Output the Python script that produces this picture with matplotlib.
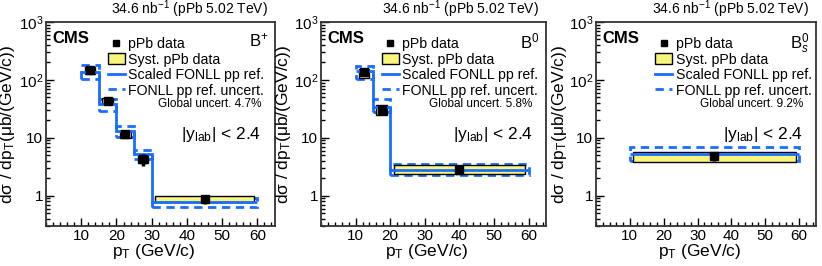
import numpy as np
import matplotlib
matplotlib.use("Agg")
import matplotlib.pyplot as plt
from matplotlib.patches import Rectangle, Patch
from matplotlib.lines import Line2D
from matplotlib.ticker import FixedLocator, MultipleLocator, LogLocator, NullFormatter

plt.rcParams["font.family"] = ["Liberation Sans", "DejaVu Sans"]
plt.rcParams["mathtext.fontset"] = "custom"
plt.rcParams["mathtext.rm"] = "Liberation Sans"
plt.rcParams["mathtext.it"] = "Liberation Sans:italic"
plt.rcParams["mathtext.bf"] = "Liberation Sans:bold"

BLUE = "#1a6eff"
YELLOW = "#f7f57a"

# B+ (5 pT bins)
bp_edges = [10, 15, 20, 25, 30, 60]
bp_x = [12.5, 17.5, 22.5, 27.5, 45]
bp_y = [148, 44, 11.5, 4.3, 0.87]
bp_stat_lo = [14, 4, 1.3, 1.0, 0.15]
bp_stat_hi = [14, 4, 1.3, 1.0, 0.16]
bp_syst_lo = [126, 38, 10.1, 3.65, 0.78]
bp_syst_hi = [169, 49, 13.2, 5.1, 1.0]
bp_fonll = [135, 38, 13, 5.3, 0.78]
bp_fonll_lo = [103, 29, 10.5, 4.3, 0.65]
bp_fonll_hi = [180, 47, 16, 6.1, 0.9]

# B0 (3 pT bins)
b0_edges = [10, 15, 20, 60]
b0_x = [12.5, 17.5, 40]
b0_y = [135, 30, 2.8]
b0_stat_lo = [20, 5, 0.4]
b0_stat_hi = [22, 6, 0.5]
b0_syst_lo = [108, 25, 2.37]
b0_syst_hi = [155, 37, 3.42]
b0_fonll = [140, 34, 2.73]
b0_fonll_lo = [105, 28, 2.24]
b0_fonll_hi = [175, 47, 3.5]

# Bs (1 pT bin)
bs_edges = [10, 60]
bs_x = [35]
bs_y = [4.9]
bs_stat_lo = [0.9]
bs_stat_hi = [0.9]
bs_syst_lo = [3.75]
bs_syst_hi = [5.6]
bs_fonll = [5.2]
bs_fonll_lo = [3.95]
bs_fonll_hi = [6.9]

panels = [
    dict(edges=bp_edges, x=bp_x, y=bp_y, slo=bp_stat_lo, shi=bp_stat_hi,
         ylo=bp_syst_lo, yhi=bp_syst_hi, f=bp_fonll, flo=bp_fonll_lo, fhi=bp_fonll_hi,
         name="B$^{+}$", glob="Global uncert. 4.7%"),
    dict(edges=b0_edges, x=b0_x, y=b0_y, slo=b0_stat_lo, shi=b0_stat_hi,
         ylo=b0_syst_lo, yhi=b0_syst_hi, f=b0_fonll, flo=b0_fonll_lo, fhi=b0_fonll_hi,
         name="B$^{0}$", glob="Global uncert. 5.8%"),
    dict(edges=bs_edges, x=bs_x, y=bs_y, slo=bs_stat_lo, shi=bs_stat_hi,
         ylo=bs_syst_lo, yhi=bs_syst_hi, f=bs_fonll, flo=bs_fonll_lo, fhi=bs_fonll_hi,
         name="B$^{0}_{s}$", glob="Global uncert. 9.2%"),
]

W, H = 822, 266
fig = plt.figure(figsize=(W / 100, H / 100), dpi=100)
boxes = [(46, 275), (321, 546), (596, 816)]
top, bottom = 22, 226


def draw_panel(ax, p):
    edges = np.array(p["edges"], dtype=float)
    lo_e, hi_e = edges[:-1], edges[1:]
    # FONLL uncertainty as dashed boxes
    for a, b, l, h in zip(lo_e, hi_e, p["flo"], p["fhi"]):
        ax.add_patch(Rectangle((a, l), b - a, h - l, fill=False, edgecolor=BLUE,
                               lw=2, linestyle=(0, (3, 2)), zorder=2))
    # systematic boxes
    for a, b, l, h in zip(lo_e, hi_e, p["ylo"], p["yhi"]):
        ax.add_patch(Rectangle((a + 1, l), b - a - 2, h - l, facecolor=YELLOW,
                               edgecolor="black", lw=1, zorder=3))
    # FONLL central
    ax.stairs(p["f"], edges, baseline=None, color=BLUE, lw=2, zorder=4)
    # data
    ax.errorbar(p["x"], p["y"], yerr=[p["slo"], p["shi"]], fmt="s", color="black",
                ms=5.5, elinewidth=2.5, capsize=0, zorder=5)

    ax.set_yscale("log")
    ax.set_xlim(0, 65)
    ax.set_ylim(0.3, 1000)
    ax.xaxis.set_major_locator(FixedLocator([10, 20, 30, 40, 50, 60]))
    ax.xaxis.set_minor_locator(MultipleLocator(2))
    ax.yaxis.set_major_locator(FixedLocator([1, 10, 100, 1000]))
    ax.set_yticklabels(["1", "10", "10$^{2}$", "10$^{3}$"])
    ax.yaxis.set_minor_locator(LogLocator(base=10, subs=np.arange(2, 10)))
    ax.yaxis.set_minor_formatter(NullFormatter())
    ax.tick_params(which="both", direction="in", labelsize=11, width=1)
    ax.tick_params(which="major", length=6, pad=2)
    ax.tick_params(which="minor", length=3)
    for s in ax.spines.values():
        s.set_linewidth(1.3)
        s.set_color("#333333")

    ax.set_xlabel("p$_{\\mathrm{T}}$ (GeV/c)", fontsize=12.5)
    ax.xaxis.set_label_coords(0.47, -0.08, transform=ax.transAxes)
    ax.xaxis.label.set_va("top")
    ax.set_ylabel("dσ / dp$_{\\mathrm{T}}$(μb/(GeV/c))", fontsize=12.5)
    ax.yaxis.set_label_coords(-0.125, 0.5)

    ax.text(0.97, 1.01, "34.6 nb$^{-1}$ (pPb 5.02 TeV)", transform=ax.transAxes,
            fontsize=10, ha="right", va="bottom")
    ax.text(0.03, 0.955, "CMS", transform=ax.transAxes, fontsize=12, fontweight="bold",
            ha="left", va="top")
    ax.text(0.97, 0.955, p["name"], transform=ax.transAxes, fontsize=12,
            ha="right", va="top")
    ax.text(0.94, 0.6, p["glob"], transform=ax.transAxes, fontsize=8.5,
            ha="right", va="center")
    ax.text(0.94, 0.45, "|y$_{\\mathrm{lab}}$| < 2.4", transform=ax.transAxes,
            fontsize=12.5, ha="right", va="center")

    handles = [
        Line2D([], [], marker="s", color="black", linestyle="none", ms=5),
        Patch(facecolor=YELLOW, edgecolor="black", lw=1),
        Line2D([], [], color=BLUE, lw=2),
        Line2D([], [], color=BLUE, lw=2, linestyle=(0, (3, 2))),
    ]
    labels = ["pPb data", "Syst. pPb data", "Scaled FONLL pp ref.", "FONLL pp ref. uncert."]
    ax.legend(handles, labels, loc="upper left", bbox_to_anchor=(0.27, 0.925),
              frameon=False, fontsize=10.2, borderpad=0, borderaxespad=0,
              labelspacing=0.1, handlelength=1.2, handletextpad=0.25, handleheight=0.8)


for (l, r), p in zip(boxes, panels):
    ax = fig.add_axes([l / W, (H - bottom) / H, (r - l) / W, (bottom - top) / H])
    draw_panel(ax, p)

fig.savefig("out.png", dpi=100)
